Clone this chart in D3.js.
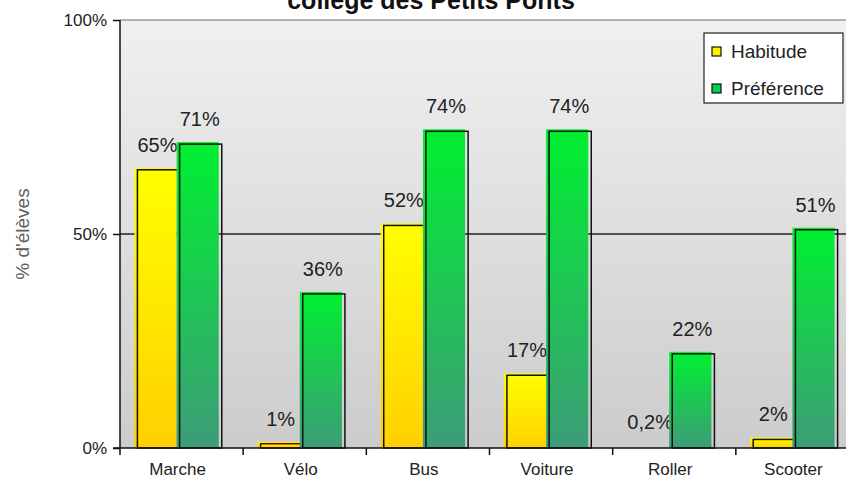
<!DOCTYPE html>
<html>
<head>
<meta charset="utf-8">
<script src="https://cdn.jsdelivr.net/npm/d3@7/dist/d3.min.js"></script>
<style>
  html, body { margin: 0; padding: 0; background: #fff; }
  svg { display: block; font-family: "Liberation Sans", Arial, sans-serif; }
</style>
</head>
<body>
<div id="chart"></div>
<script>
const categories = ["Marche", "Vélo", "Bus", "Voiture", "Roller", "Scooter"];
const seriesNames = ["Habitude", "Préférence"];
const habitude = [65, 1, 52, 17, 0.2, 2];
const preference = [71, 36, 74, 74, 22, 51];
const habitudeLabels = ["65%", "1%", "52%", "17%", "0,2%", "2%"];
const preferenceLabels = ["71%", "36%", "74%", "74%", "22%", "51%"];
const yTicks = [0, 50, 100];
const title = "collège des Petits Ponts";
const yTitle = "% d'élèves";

const W = 846, H = 487;
const margin = { left: 120, top: 20, bottom: 39 };
const plotRight = 859;

const svg = d3.select("#chart").append("svg").attr("width", W).attr("height", H);
const defs = svg.append("defs");

const bg = defs.append("linearGradient").attr("id", "bgGrad").attr("x1", 0).attr("y1", 0).attr("x2", 0).attr("y2", 1);
bg.append("stop").attr("offset", "0%").attr("stop-color", "#f0f0f0");
bg.append("stop").attr("offset", "100%").attr("stop-color", "#cccccc");

const gy = defs.append("linearGradient").attr("id", "yelGrad").attr("x1", 0).attr("y1", 0).attr("x2", 0).attr("y2", 1);
gy.append("stop").attr("offset", "0%").attr("stop-color", "#ffff00");
gy.append("stop").attr("offset", "100%").attr("stop-color", "#ffd000");

const gg = defs.append("linearGradient").attr("id", "grnGrad").attr("x1", 0).attr("y1", 0).attr("x2", 0).attr("y2", 1);
gg.append("stop").attr("offset", "0%").attr("stop-color", "#00f030");
gg.append("stop").attr("offset", "100%").attr("stop-color", "#3d9c78");

const x = d3.scaleBand().domain(categories).range([margin.left, plotRight]).paddingInner(0).paddingOuter(0);
const inner = d3.scaleBand().domain(seriesNames).range([0, x.bandwidth()]).paddingInner(0).paddingOuter(0.46);
const y = d3.scaleLinear().domain([0, 100]).range([H - margin.bottom, margin.top]);
const y0 = y(0);

// plot background
svg.append("rect").attr("x", margin.left).attr("y", y(100)).attr("width", plotRight - margin.left)
  .attr("height", y0 - y(100)).attr("fill", "url(#bgGrad)");
// top border of plot (gray)
svg.append("line").attr("x1", margin.left).attr("x2", W).attr("y1", y(100)).attr("y2", y(100))
  .attr("stroke", "#9a9a9a").attr("stroke-width", 1.5);
// gridline at 50%
svg.append("line").attr("x1", margin.left).attr("x2", W).attr("y1", y(50)).attr("y2", y(50))
  .attr("stroke", "#222").attr("stroke-width", 1.5);

// bars
const data = categories.map((c, i) => ({ cat: c, values: [
  { s: "Habitude", v: habitude[i], label: habitudeLabels[i], fill: "url(#yelGrad)" },
  { s: "Préférence", v: preference[i], label: preferenceLabels[i], fill: "url(#grnGrad)" }
]}));

const groups = svg.append("g").selectAll("g").data(data).join("g")
  .attr("transform", d => `translate(${x(d.cat) - 2},0)`);

groups.each(function(d) {
  const g = d3.select(this);
  d.values.forEach(b => {
    const bx = inner(b.s), bw = inner.bandwidth();
    const top = y(b.v), h = y0 - top;
    if (h >= 1.5) {
      g.append("rect").attr("x", bx - 3).attr("y", top - 2).attr("width", bw).attr("height", h + 2)
        .attr("fill", b.fill);
      const thin = h < 6;
      g.append("rect").attr("x", bx).attr("y", top).attr("width", bw).attr("height", h)
        .attr("fill", "none")
        .attr("stroke", thin && b.v < 2 ? "#5a0a0a" : "#111")
        .attr("stroke-width", 1.5);
    }
    g.append("text").attr("x", bx + bw / 2 - 1).attr("y", top - 18)
      .attr("text-anchor", "middle").attr("font-size", 20).attr("fill", "#222")
      .text(b.label);
  });
});

// y axis
svg.append("line").attr("x1", margin.left).attr("x2", margin.left).attr("y1", y(100)).attr("y2", y0 + 7)
  .attr("stroke", "#111").attr("stroke-width", 1.5);
// x axis
svg.append("line").attr("x1", margin.left - 7).attr("x2", W).attr("y1", y0).attr("y2", y0)
  .attr("stroke", "#111").attr("stroke-width", 1.5);

const yAxis = d3.axisLeft(y).tickValues(yTicks).tickSize(7).tickFormat(d => d + "%");
const ya = svg.append("g").attr("transform", `translate(${margin.left},0)`).call(yAxis);
ya.select(".domain").remove();
ya.selectAll(".tick line").attr("stroke", "#111").attr("stroke-width", 1.5);
ya.selectAll(".tick text").attr("font-size", 17).attr("fill", "#222")
  .attr("font-family", "Liberation Sans, Arial, sans-serif").attr("dx", -3);

// x ticks between categories
const bounds = categories.slice(1).map(c => x(c));
svg.append("g").selectAll("line").data(bounds).join("line")
  .attr("x1", d => d).attr("x2", d => d).attr("y1", y0).attr("y2", y0 + 7)
  .attr("stroke", "#111").attr("stroke-width", 1.5);

const xAxis = d3.axisBottom(x).tickSize(0).tickPadding(15);
const xa = svg.append("g").attr("transform", `translate(-4,${y0})`).call(xAxis);
xa.select(".domain").remove();
xa.selectAll(".tick text").attr("font-size", 17).attr("fill", "#222")
  .attr("font-family", "Liberation Sans, Arial, sans-serif");

// y title
svg.append("text").attr("transform", `translate(29,${y(50)}) rotate(-90)`)
  .attr("text-anchor", "middle").attr("font-size", 19).attr("fill", "#5e5e5e").text(yTitle);

// title (clipped at top, as in the reference)
svg.append("text").attr("x", 431).attr("y", 9).attr("text-anchor", "middle")
  .attr("font-size", 25).attr("font-weight", "bold").attr("fill", "#111").text(title);

// legend
const lg = svg.append("g").attr("transform", "translate(704,33)");
lg.append("rect").attr("width", 139).attr("height", 70).attr("fill", "#fff").attr("stroke", "#222").attr("stroke-width", 1.2);
const legendColors = ["#ffee00", "#00d050"];
seriesNames.forEach((s, i) => {
  const yy = 19 + i * 37;
  lg.append("rect").attr("x", 8).attr("y", yy - 5).attr("width", 9).attr("height", 9)
    .attr("fill", legendColors[i]).attr("stroke", "#111").attr("stroke-width", 1.2);
  lg.append("text").attr("x", 27).attr("y", yy + 6).attr("font-size", 19).attr("fill", "#222").text(s);
});
</script>
</body>
</html>
